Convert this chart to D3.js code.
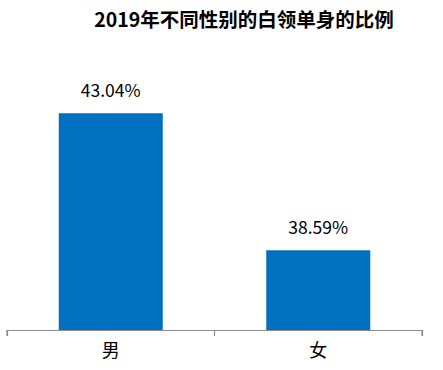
<!DOCTYPE html>
<html><head><meta charset="utf-8">
<script src="https://cdn.jsdelivr.net/npm/d3@7"></script>
<style>html,body{margin:0;padding:0;background:#fff;}svg{display:block;}</style>
</head><body>
<svg id="c" width="443" height="370"></svg>
<script>
const title = "2019年不同性别的白领单身的比例";
const categories = ["男", "女"];
const values = [43.04, 38.59];
const valueLabels = ["43.04%", "38.59%"];
const yDomain = [36, 44];

const svg = d3.select("#c");
const font = "'Noto Sans CJK SC', 'Noto Sans', sans-serif";
const x = d3.scaleBand().domain(categories).range([7, 422]).paddingInner(0).paddingOuter(0);
const y = d3.scaleLinear().domain(yDomain).range([330, 83.7]);
const barW = 104;

svg.append("text").attr("x", 244).attr("y", 27).attr("text-anchor", "middle")
  .attr("font-family", font).attr("font-size", 19.5).attr("font-weight", "bold").attr("fill", "#000").text(title);

svg.selectAll("rect.bar").data(values).join("rect").attr("class", "bar")
  .attr("x", (d, i) => x(categories[i]) + x.bandwidth() / 2 - barW / 2)
  .attr("width", barW)
  .attr("y", d => y(d))
  .attr("height", d => y(yDomain[0]) - y(d))
  .attr("fill", "#0070C0");

svg.selectAll("text.val").data(values).join("text").attr("class", "val")
  .attr("x", (d, i) => x(categories[i]) + x.bandwidth() / 2)
  .attr("y", d => y(d) - 16)
  .attr("text-anchor", "middle").attr("font-family", font).attr("font-size", 17.5).attr("fill", "#000")
  .text((d, i) => valueLabels[i]);

const axis = d3.axisBottom(x).tickSize(6).tickSizeOuter(6).tickFormat("");
const ag = svg.append("g").attr("transform", "translate(0,330)").call(axis);
ag.select(".domain").attr("stroke", "#8c8c8c").attr("stroke-width", 1.2);
ag.selectAll(".tick").remove();
const bounds = [x.range()[0], x(categories[1]), x.range()[1]];
ag.selectAll("line.b").data(bounds).join("line").attr("class", "b")
  .attr("x1", d => d).attr("x2", d => d).attr("y1", 0).attr("y2", 6)
  .attr("stroke", "#8c8c8c").attr("stroke-width", 1.2);

svg.selectAll("text.cat").data(categories).join("text").attr("class", "cat")
  .attr("x", d => x(d) + x.bandwidth() / 2).attr("y", 357)
  .attr("text-anchor", "middle").attr("font-family", font).attr("font-size", 18).attr("fill", "#000")
  .text(d => d);
</script>
</body></html>
